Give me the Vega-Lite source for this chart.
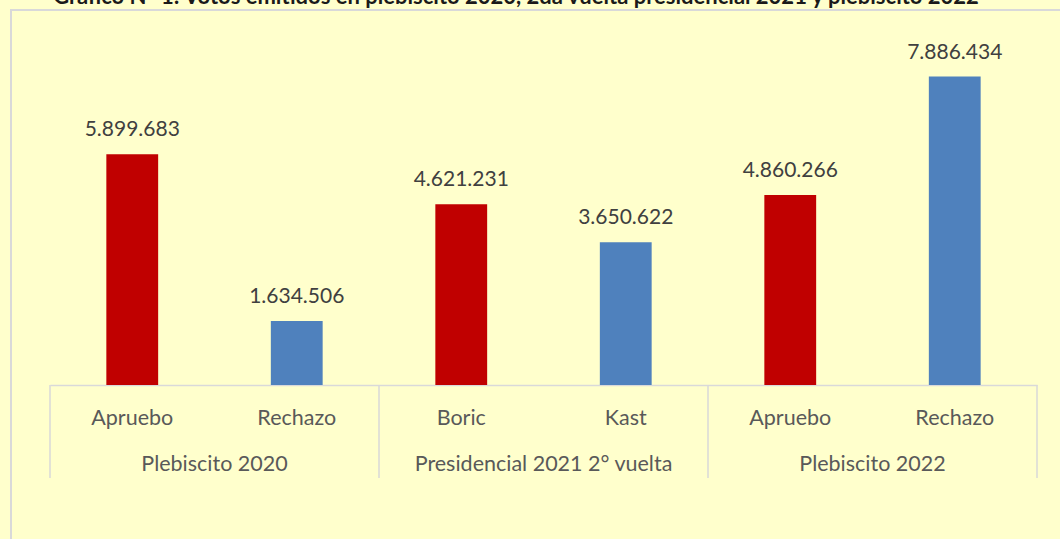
{
  "$schema": "https://vega.github.io/schema/vega-lite/v6.json",
  "width": 1070,
  "height": 560,
  "autosize": {"type": "none"},
  "padding": {"left": 11, "top": 10, "right": -21, "bottom": -31},
  "background": "#FFFFCC",
  "config": {
    "view": {"stroke": "#D9D9D9", "strokeWidth": 2},
    "locale": {"number": {"decimal": ",", "thousands": ".", "grouping": [3], "currency": ["$", ""]}}
  },
  "title": {
    "text": "Gráfico N° 1: Votos emitidos en plebiscito 2020, 2da vuelta presidencial 2021 y plebiscito 2022",
    "font": "Lato",
    "fontSize": 22,
    "fontWeight": "bold",
    "color": "#1a1a1a",
    "anchor": "middle",
    "offset": 1,
    "dx": -30
  },
  "datasets": {
    "votos": [
      {"id": "P20A", "label": "Apruebo", "grupo": "Plebiscito 2020", "tipo": "a", "votos": 5899683},
      {"id": "P20R", "label": "Rechazo", "grupo": "Plebiscito 2020", "tipo": "r", "votos": 1634506},
      {"id": "P21B", "label": "Boric", "grupo": "Presidencial 2021 2° vuelta", "tipo": "a", "votos": 4621231},
      {"id": "P21K", "label": "Kast", "grupo": "Presidencial 2021 2° vuelta", "tipo": "r", "votos": 3650622},
      {"id": "P22A", "label": "Apruebo", "grupo": "Plebiscito 2022", "tipo": "a", "votos": 4860266},
      {"id": "P22R", "label": "Rechazo", "grupo": "Plebiscito 2022", "tipo": "r", "votos": 7886434}
    ],
    "grupos": [
      {"id": "P20A", "grupo": "Plebiscito 2020"},
      {"id": "P21B", "grupo": "Presidencial 2021 2° vuelta"},
      {"id": "P22A", "grupo": "Plebiscito 2022"}
    ],
    "fin": [
      {"id": "P22R"}
    ]
  },
  "layer": [
    {
      "data": {"name": "votos"},
      "mark": {"type": "bar", "width": {"band": 0.315}},
      "encoding": {
        "x": {
          "field": "id",
          "type": "nominal",
          "sort": null,
          "scale": {"domain": ["P20A", "P20R", "P21B", "P21K", "P22A", "P22R"], "range": [39, 1026], "paddingInner": 0, "paddingOuter": 0},
          "axis": {"orient": "bottom", "offset": -185, "domain": true, "domainColor": "#D9D9D9", "domainWidth": 1.5, "ticks": false, "labels": false, "title": null, "grid": false}
        },
        "y": {
          "field": "votos",
          "type": "quantitative",
          "scale": {"domain": [0, 9000000], "range": [375, 23], "nice": false},
          "axis": null
        },
        "color": {
          "field": "tipo",
          "type": "nominal",
          "scale": {"domain": ["a", "r"], "range": ["#C00000", "#4F81BD"]},
          "legend": null
        }
      }
    },
    {
      "data": {"name": "votos"},
      "mark": {"type": "text", "font": "Lato", "fontSize": 21, "color": "#404040", "baseline": "alphabetic", "dy": -18},
      "encoding": {
        "x": {"field": "id", "type": "nominal"},
        "y": {"field": "votos", "type": "quantitative"},
        "text": {"field": "votos", "type": "quantitative", "format": ",d"}
      }
    },
    {
      "data": {"name": "votos"},
      "mark": {"type": "text", "font": "Lato", "fontSize": 21.5, "color": "#595959", "baseline": "alphabetic", "dy": 40},
      "encoding": {
        "x": {"field": "id", "type": "nominal"},
        "y": {"datum": 0},
        "text": {"field": "label"}
      }
    },
    {
      "data": {"name": "grupos"},
      "mark": {"type": "text", "font": "Lato", "fontSize": 21.5, "color": "#595959", "baseline": "alphabetic", "dy": 86},
      "encoding": {
        "x": {"field": "id", "type": "nominal", "bandPosition": 1},
        "y": {"datum": 0},
        "text": {"field": "grupo"}
      }
    },
    {
      "data": {"name": "grupos"},
      "mark": {"type": "rule", "color": "#D9D9D9", "strokeWidth": 1.5},
      "encoding": {
        "x": {"field": "id", "type": "nominal", "bandPosition": 0},
        "y": {"datum": 0},
        "y2": {"datum": -2380000}
      }
    },
    {
      "data": {"name": "fin"},
      "mark": {"type": "rule", "color": "#D9D9D9", "strokeWidth": 1.5},
      "encoding": {
        "x": {"field": "id", "type": "nominal", "bandPosition": 1},
        "y": {"datum": 0},
        "y2": {"datum": -2380000}
      }
    }
  ]
}
